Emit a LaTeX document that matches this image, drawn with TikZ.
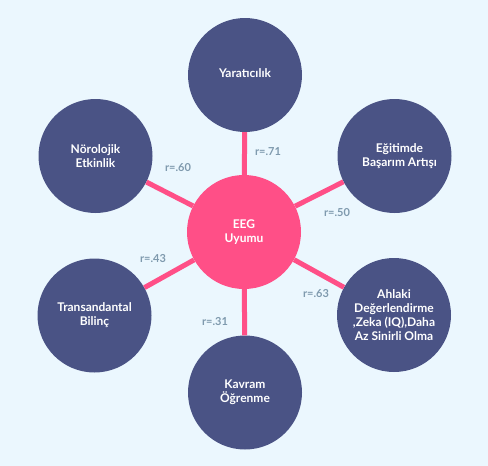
\documentclass[tikz,border=0pt]{standalone}
\usepackage{fontspec}
\setmainfont{Lato}
\definecolor{bgc}{HTML}{EBF7FE}
\definecolor{navy}{HTML}{4A5385}
\definecolor{rose}{HTML}{FF4F87}
\definecolor{lbl}{HTML}{7F9AAE}
\begin{document}
\begin{tikzpicture}[x=1pt,y=-1pt,
  outer/.style={circle,fill=navy,minimum size=114pt,inner sep=0pt,align=center,text=white,font=\fontsize{12}{14.2}\selectfont\bfseries},
  hub/.style={circle,fill=rose,minimum size=114pt,inner sep=0pt,align=center,text=white,font=\fontsize{12}{14.2}\selectfont\bfseries},
  link/.style={draw=rose,line width=5pt},
  rlab/.style={text=lbl,font=\fontsize{11}{13}\selectfont\bfseries,inner sep=0pt}]
\fill[bgc] (0,0) rectangle (488,466);
\useasboundingbox (0,0) rectangle (488,466);
\node[hub] (c) at (244,232) {EEG\\Uyumu};
\node[outer] (top) at (245,75) {\raisebox{3pt}{Yaratıcılık}};
\node[outer] (ul) at (95.5,156) {Nörolojik\\Etkinlik};
\node[outer] (ur) at (394.5,156) {\hspace*{10pt}Eğitimde\\\hspace*{10pt}Başarım Artışı};
\node[outer] (ll) at (94.5,315.5) {Transandantal\\Bilinç};
\node[outer] (lr) at (394,315) {Ahlaki\\Değerlendirme\\,Zeka (IQ),Daha\\Az Sinirli Olma};
\node[outer] (bot) at (245,392.5) {Kavram\\Öğrenme};
\draw[link] (c) -- (top);
\draw[link] (c) -- (ul);
\draw[link] (c) -- (ur);
\draw[link] (c) -- (ll);
\draw[link] (c) -- (lr);
\draw[link] (c) -- (bot);
\node[rlab] (l1) at (268,152) {r=.71};
\node[rlab] (l2) at (178,168) {r=.60};
\node[rlab] (l3) at (337,213) {r=.50};
\node[rlab] (l4) at (153,259) {r=.43};
\node[rlab] (l5) at (316,294) {r=.63};
\node[rlab] (l6) at (215,322) {r=.31};
\end{tikzpicture}
\end{document}
